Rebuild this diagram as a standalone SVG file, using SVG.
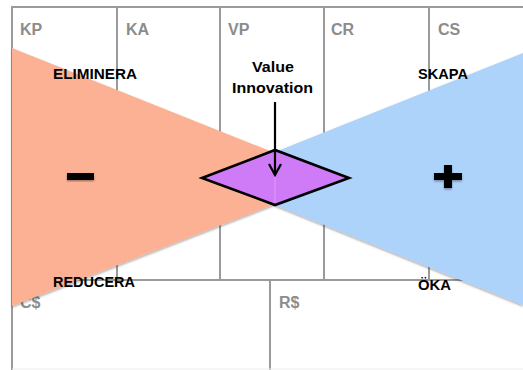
<svg xmlns="http://www.w3.org/2000/svg" width="523" height="370" viewBox="0 0 523 370">
  <defs>
    <filter id="soft" x="-10%" y="-10%" width="120%" height="130%">
      <feDropShadow dx="0" dy="1.5" stdDeviation="1.2" flood-color="#000" flood-opacity="0.35"/>
    </filter>
    <marker id="head" viewBox="0 0 14 14" refX="12" refY="7" markerWidth="14" markerHeight="14" markerUnits="userSpaceOnUse" orient="auto">
      <path d="M1 1 L12 7 L1 13" fill="none" stroke="#000" stroke-width="2.2"/>
    </marker>
  </defs>
  <style>
    .grid { stroke: #9a9a9a; stroke-width: 2; fill: none; }
    .cell { font-family: "Liberation Sans", Arial, sans-serif; font-weight: bold; font-size: 16px; fill: #8c8c8c; }
    .act { font-family: "Liberation Sans", Arial, sans-serif; font-weight: bold; font-size: 15px; fill: #000; }
  </style>
  <rect width="523" height="370" fill="#fff"/>

  <!-- canvas grid -->
  <g id="canvas">
    <path class="grid" d="M12 370 V7 H523"/>
    <path class="grid" d="M117 7 V280 M220 7 V280 M324 7 V280 M429 7 V280"/>
    <path class="grid" d="M12 280 H523"/>
    <path class="grid" d="M270 280 V370"/>
    <path d="M12 369 H523" stroke="#eeeeee" stroke-width="1"/>
    <text class="cell" x="20" y="35">KP</text>
    <text class="cell" x="126" y="35">KA</text>
    <text class="cell" x="228" y="35">VP</text>
    <text class="cell" x="331" y="35">CR</text>
    <text class="cell" x="438" y="35">CS</text>
    <text class="cell" x="20" y="308">C$</text>
    <text class="cell" x="279" y="308">R$</text>
  </g>

  <!-- reduce / eliminate wedge -->
  <g id="minus-wedge">
    <polygon points="12,48 275,153 275,204 12,306" fill="#fcb194" filter="url(#soft)"/>
    <rect x="67" y="173" width="27" height="7" fill="#000" filter="url(#soft)"/>
  </g>

  <!-- create / raise wedge -->
  <g id="plus-wedge">
    <polygon points="523,53 275,152 275,205 523,305" fill="#aed3fb" filter="url(#soft)"/>
    <path d="M434 173 H444 V165 H452 V173 H462 V180 H452 V188 H444 V180 H434 Z" fill="#000" filter="url(#soft)"/>
  </g>

  <!-- action labels -->
  <g id="labels">
    <text class="act" x="53" y="79" textLength="84" lengthAdjust="spacingAndGlyphs">ELIMINERA</text>
    <text class="act" x="418" y="79" textLength="50" lengthAdjust="spacingAndGlyphs">SKAPA</text>
    <text class="act" x="53" y="287" textLength="82" lengthAdjust="spacingAndGlyphs">REDUCERA</text>
    <text class="act" x="418" y="290" textLength="33" lengthAdjust="spacingAndGlyphs">ÖKA</text>
  </g>

  <!-- value innovation -->
  <g id="value-innovation">
    <polygon points="202,178 275,150 349,178 275,205" fill="#cf7bf7" stroke="#000" stroke-width="2.6" stroke-linejoin="miter"/>
    <line x1="275" y1="152" x2="275" y2="203" stroke="#e39af9" stroke-width="1"/>
    <text class="act" x="273" y="72" text-anchor="middle" textLength="42" lengthAdjust="spacingAndGlyphs">Value</text>
    <text class="act" x="272.5" y="93" text-anchor="middle" textLength="81" lengthAdjust="spacingAndGlyphs">Innovation</text>
  </g>

  <g id="connectors">
    <line x1="275" y1="102" x2="275" y2="175" stroke="#000" stroke-width="2.2" marker-end="url(#head)"/>
  </g>
</svg>
